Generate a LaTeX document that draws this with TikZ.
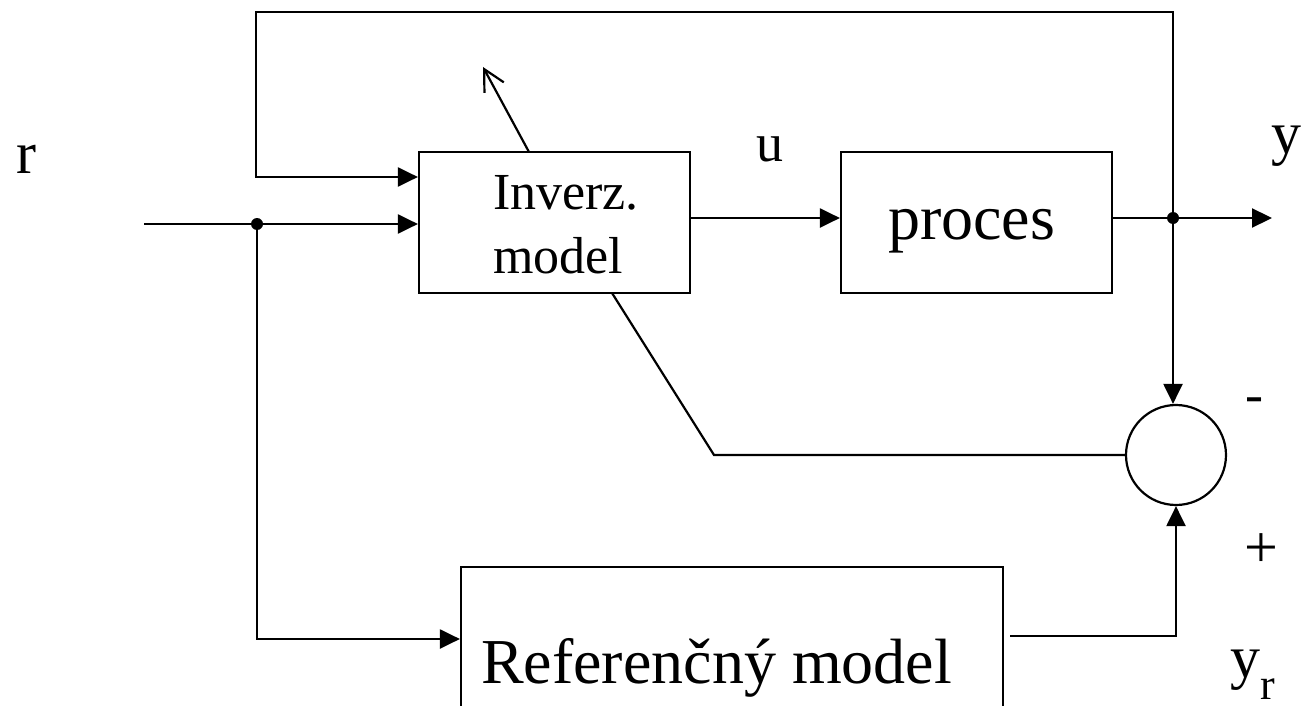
\documentclass[tikz,border=0pt]{standalone}
\usepackage{fontspec}
\setmainfont{Liberation Serif}
\usetikzlibrary{arrows.meta}
\begin{document}
\begin{tikzpicture}[x=1pt,y=-1pt,line width=2.2pt,
  blok/.style={draw,line width=2.2pt,inner sep=0pt},
  sig/.style={-{Triangle[length=20pt,width=19pt]}},
  adapt/.style={-{Straight Barb[length=21pt,width=22pt]}},
  lbl/.style={inner sep=0pt,anchor=base west},
  sgn/.style={inner sep=0pt,anchor=base},
  junction/.style={circle,fill,inner sep=0pt,minimum size=12pt},
  fA/.style={font=\fontsize{52}{63}\selectfont},
  fB/.style={font=\fontsize{64}{77}\selectfont},
  fC/.style={font=\fontsize{60}{72}\selectfont}]
\useasboundingbox (0,0) rectangle (1302,706);

% blocks
\node[blok,minimum width=271pt,minimum height=141pt] (inv) at (554.5,222.5) {};
\node[blok,minimum width=271pt,minimum height=141pt] (proc) at (976.5,222.5) {};
\node[blok,minimum width=542pt,minimum height=160pt] (ref) at (732,647) {};
\node[draw,circle,minimum size=100pt,inner sep=0pt] (sum) at (1176,455) {};

% block texts
\node[lbl,fA] (tinv) at (492,210) {Inverz.};
\node[lbl,fA] (tmod) at (492,273) {model};
\node[lbl,fB] (tproc) at (887,240) {proces};
\node[lbl,fB] (tref) at (480,683) {Referenčný model};

% junctions and helper points
\node[junction] (j1) at (257,224) {};
\node[junction] (j2) at (1173,218) {};
\coordinate (rin) at (144,224);
\coordinate (yout) at (1272,218);
\coordinate (fbA) at (256,12);
\coordinate (fbB) at (256,177);
\coordinate (rdn) at (257,639);
\coordinate (rout) at (1010,636);
\coordinate (bend) at (714,455);
\coordinate (errin) at (612,293);
\coordinate (adA) at (529,152);
\coordinate (adB) at (483,67);

% signal lines
\draw[sig] (rin) -- (rin -| inv.west);
\draw[sig] (j1.center) -- (rdn) -- (rdn -| ref.west);
\draw[sig] (j2.center) |- (fbA) -- (fbB) -- (fbB -| inv.west);
\draw[sig] (inv.east |- j2) -- (proc.west |- j2);
\draw[sig] (proc.east |- j2) -- (yout);
\draw[sig] (j2.center) -- (j2 |- sum.north);
\draw[sig] (rout) -| (sum.south);
\draw (sum.west) -- (bend) -- (errin);
\draw[adapt] (adA) -- (adB);

% signal labels
\node[lbl,fC] (lr) at (15,174) {r};
\node[lbl,font=\fontsize{54}{64}\selectfont] (lu) at (755,162) {u};
\node[lbl,fC] (ly) at (1270,154) {y};
\node[sgn,font=\fontsize{54}{64}\selectfont] (lminus) at (1254,412) {-};
\node[sgn,fC] (lplus) at (1261,567) {+};
\node[lbl,fC] (lyr) at (1229,677) {y\raisebox{-22pt}{\fontsize{44}{50}\selectfont r}};
\end{tikzpicture}
\end{document}
